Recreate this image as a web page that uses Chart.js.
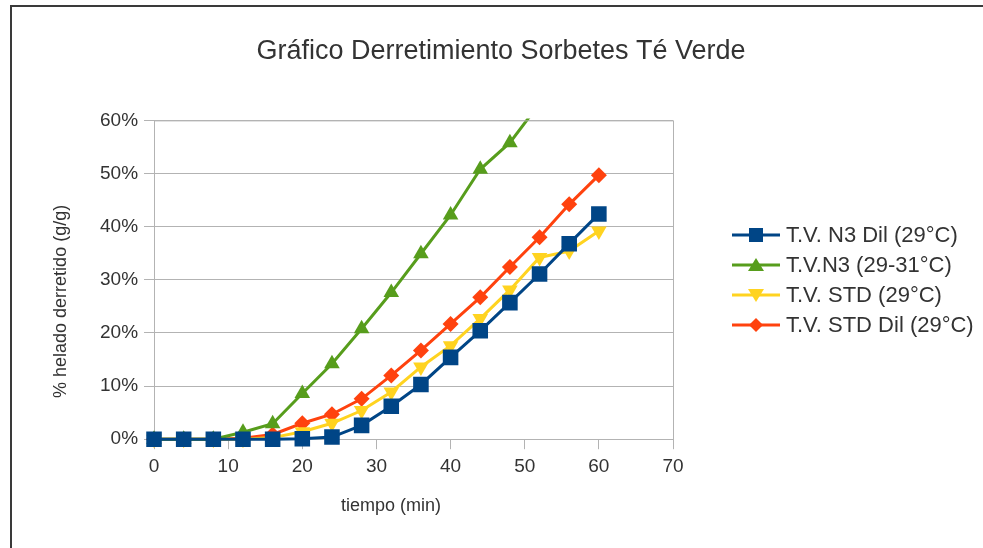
<!DOCTYPE html>
<html>
<head>
<meta charset="utf-8">
<script src="https://cdn.jsdelivr.net/npm/chart.js@4.4.1/dist/chart.umd.min.js"></script>
<style>
  html, body { margin: 0; padding: 0; background: #fff; }
  #wrap { position: relative; width: 983px; height: 548px; overflow: hidden; }
  #frame { position: absolute; left: 10px; top: 5px; width: 1000px; height: 600px;
           border-left: 2px solid #3a3a3a; border-top: 2px solid #3a3a3a; pointer-events: none; }
  canvas { position: absolute; left: 0; top: 0; }
</style>
</head>
<body>
<div id="wrap">
  <canvas id="chartCanvas" width="983" height="548"></canvas>
  <div id="frame"></div>
</div>
<script>
  // tiempo (min)
  var tiempo = [0, 4, 8, 12, 16, 20, 24, 28, 32, 36, 40, 44, 48, 52, 56, 60];

  // % helado derretido
  var n3Dil = [0, 0, 0, 0, 0, 0.1, 0.4, 2.6, 6.2, 10.3, 15.4, 20.4, 25.7, 31.1, 36.8, 42.4];
  var n3 = [0, 0, 0, 1.3, 2.9, 8.6, 14.2, 20.8, 27.6, 34.9, 42.2, 50.8, 55.8, 63.2];
  var std = [0, 0, 0, 0, 0.3, 1.4, 3.0, 5.4, 8.9, 13.6, 17.6, 22.7, 28.1, 34.2, 35.4, 39.2];
  var stdDil = [0, 0, 0, 0.2, 0.9, 3.0, 4.7, 7.6, 12.0, 16.7, 21.7, 26.7, 32.4, 38.0, 44.2, 49.7];

  var seriesNames = ['T.V. N3 Dil (29°C)', 'T.V.N3 (29-31°C)', 'T.V. STD (29°C)', 'T.V. STD Dil (29°C)'];
  var seriesColors = ['#004586', '#579d1c', '#ffd320', '#ff420e'];
  var seriesShapes = ['square', 'up', 'down', 'diamond'];
  var xTicks = [0, 10, 20, 30, 40, 50, 60, 70];
  var yTicks = [0, 10, 20, 30, 40, 50, 60];
  var xTitle = 'tiempo (min)';
  var yTitle = '% helado derretido (g/g)';

  function toPoints(values) {
    return values.map(function (v, i) { return { x: tiempo[i], y: v }; });
  }

  function makeDataset(idx, values, style, radius, rotation) {
    return {
      label: seriesNames[idx],
      data: toPoints(values),
      borderColor: seriesColors[idx],
      backgroundColor: seriesColors[idx],
      borderWidth: 3,
      pointStyle: style,
      pointRadius: radius,
      pointHoverRadius: radius,
      pointRotation: rotation || 0,
      pointBorderWidth: 0,
      tension: 0,
      clip: { left: 14, right: 14, top: 2, bottom: 14 }
    };
  }

  // line + marker legend drawn to the right of the plot
  function drawMarker(g, shape, cx, cy) {
    g.beginPath();
    if (shape === 'square') {
      g.rect(cx - 7, cy - 7, 14, 14);
    } else if (shape === 'up') {
      g.moveTo(cx, cy - 7); g.lineTo(cx + 8, cy + 6); g.lineTo(cx - 8, cy + 6);
    } else if (shape === 'down') {
      g.moveTo(cx, cy + 7); g.lineTo(cx + 8, cy - 6); g.lineTo(cx - 8, cy - 6);
    } else {
      g.moveTo(cx, cy - 7); g.lineTo(cx + 7, cy); g.lineTo(cx, cy + 7); g.lineTo(cx - 7, cy);
    }
    g.closePath();
    g.fill();
  }

  var sideLegend = {
    id: 'sideLegend',
    afterDraw: function (chart) {
      var a = chart.chartArea, g = chart.ctx;
      var x0 = a.right + 59;
      var mid = (a.top + a.bottom) / 2;
      var step = 30;
      g.save();
      g.font = '22px "Liberation Sans", Arial, sans-serif';
      g.textBaseline = 'middle';
      seriesNames.forEach(function (name, i) {
        var y = Math.round(mid + (i - 1.5) * step);
        g.strokeStyle = seriesColors[i];
        g.fillStyle = seriesColors[i];
        g.lineWidth = 3;
        g.beginPath(); g.moveTo(x0, y); g.lineTo(x0 + 48, y); g.stroke();
        drawMarker(g, seriesShapes[i], x0 + 24, y);
        g.fillStyle = '#333333';
        g.fillText(name, x0 + 54, y + 1);
      });
      g.restore();
    }
  };

  // axis titles, centred on the whole diagram (labels included) like the original
  var axisTitles = {
    id: 'axisTitles',
    afterDraw: function (chart) {
      var a = chart.chartArea, g = chart.ctx;
      g.save();
      g.font = '18px "Liberation Sans", Arial, sans-serif';
      g.fillStyle = '#333333';
      g.textAlign = 'center';
      g.textBaseline = 'middle';
      g.fillText(xTitle, a.left + 237, a.bottom + 67);
      g.translate(a.left - 93, a.top + 181);
      g.rotate(-Math.PI / 2);
      g.fillText(yTitle, 0, 0);
      g.restore();
    }
  };

  var plotBorder = {
    id: 'plotBorder',
    afterDraw: function (chart) {
      var a = chart.chartArea, c = chart.ctx;
      c.save();
      c.strokeStyle = '#b3b3b3'; c.lineWidth = 1;
      c.beginPath(); c.moveTo(a.right + 0.5, a.top); c.lineTo(a.right + 0.5, a.bottom); c.stroke();
      c.beginPath(); c.moveTo(a.left, a.top + 0.5); c.lineTo(a.right, a.top + 0.5); c.stroke();
      c.restore();
    }
  };

  Chart.defaults.font.family = '"Liberation Sans", Arial, sans-serif';
  Chart.defaults.color = '#333333';

  var ctx = document.getElementById('chartCanvas').getContext('2d');
  new Chart(ctx, {
    type: 'line',
    data: {
      datasets: [
        makeDataset(0, n3Dil, 'rect', 11),
        makeDataset(1, n3, 'triangle', 9),
        makeDataset(2, std, 'triangle', 9, 180),
        makeDataset(3, stdDil, 'rectRot', 8)
      ]
    },
    options: {
      responsive: false,
      animation: false,
      events: [],
      layout: { padding: { left: 94, right: 75, top: 0, bottom: 64 } },
      plugins: {
        title: {
          display: true,
          text: 'Gráfico Derretimiento Sorbetes Té Verde',
          font: { size: 27, weight: 'normal' },
          color: '#333333',
          padding: { top: 35, bottom: 53 }
        },
        legend: { display: false },
        tooltip: { enabled: false }
      },
      scales: {
        x: {
          type: 'linear',
          min: 0,
          max: 70,
          afterBuildTicks: function (axis) { axis.ticks = xTicks.map(function (v) { return { value: v }; }); },
          grid: { color: '#b3b3b3', drawOnChartArea: false, tickLength: 10 },
          border: { color: '#b3b3b3' },
          ticks: { font: { size: 19 }, color: '#333333', padding: 6 }
        },
        y: {
          min: 0,
          max: 60,
          afterBuildTicks: function (axis) { axis.ticks = yTicks.map(function (v) { return { value: v }; }); },
          grid: { color: '#b3b3b3', tickLength: 10 },
          border: { color: '#b3b3b3' },
          ticks: {
            font: { size: 19 },
            color: '#333333',
            padding: 6,
            callback: function (v) { return v + '%'; }
          }
        },
        legendSpace: {
          type: 'linear',
          position: 'right',
          display: true,
          grid: { display: false },
          border: { display: false },
          ticks: { display: false },
          afterFit: function (axis) { axis.width = 235; }
        }
      }
    },
    plugins: [plotBorder, axisTitles, sideLegend]
  });
</script>
</body>
</html>
